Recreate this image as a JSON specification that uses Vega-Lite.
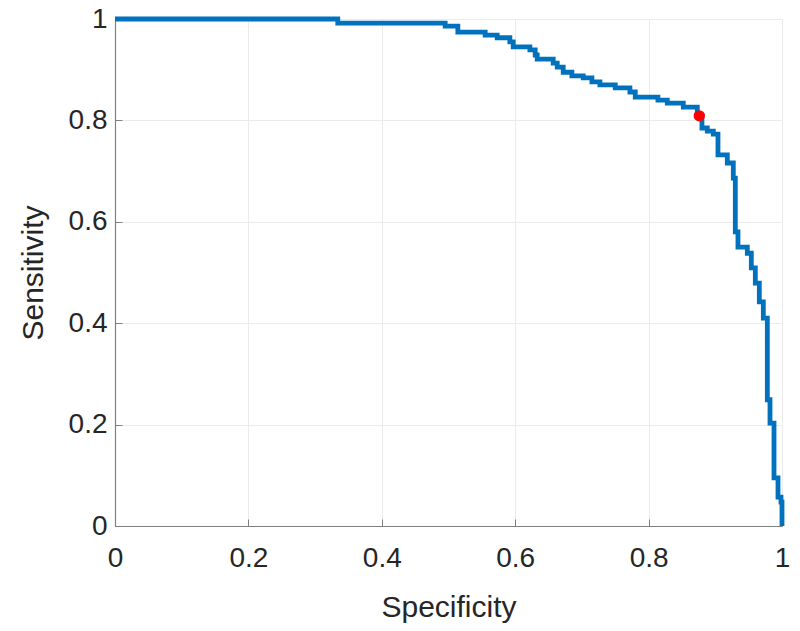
{
  "$schema": "https://vega.github.io/schema/vega-lite/v6.json",
  "width": 667,
  "height": 507,
  "autosize": {"type": "none"},
  "padding": {"left": 115, "top": 19, "right": 18, "bottom": 105},
  "background": "white",
  "config": {
    "view": {"stroke": null},
    "font": "Liberation Sans",
    "axis": {
      "labelFont": "Liberation Sans",
      "titleFont": "Liberation Sans",
      "labelFontSize": 28,
      "titleFontSize": 30,
      "labelColor": "#262626",
      "titleColor": "#262626",
      "titleFontWeight": "normal",
      "domainColor": "#808080",
      "domainWidth": 1.2,
      "tickColor": "#808080",
      "tickSize": -7,
      "gridColor": "#ebebeb",
      "gridWidth": 1
    }
  },
  "datasets": {
    "roc": [
      {"spec": 0, "sens": 1},
      {"spec": 0.334, "sens": 0.992},
      {"spec": 0.495, "sens": 0.986},
      {"spec": 0.514, "sens": 0.974},
      {"spec": 0.555, "sens": 0.968},
      {"spec": 0.573, "sens": 0.963},
      {"spec": 0.592, "sens": 0.955},
      {"spec": 0.597, "sens": 0.945},
      {"spec": 0.622, "sens": 0.939},
      {"spec": 0.630, "sens": 0.929},
      {"spec": 0.633, "sens": 0.921},
      {"spec": 0.657, "sens": 0.913},
      {"spec": 0.663, "sens": 0.905},
      {"spec": 0.672, "sens": 0.895},
      {"spec": 0.685, "sens": 0.888},
      {"spec": 0.702, "sens": 0.884},
      {"spec": 0.715, "sens": 0.876},
      {"spec": 0.727, "sens": 0.870},
      {"spec": 0.750, "sens": 0.864},
      {"spec": 0.772, "sens": 0.856},
      {"spec": 0.780, "sens": 0.846},
      {"spec": 0.814, "sens": 0.840},
      {"spec": 0.828, "sens": 0.834},
      {"spec": 0.852, "sens": 0.826},
      {"spec": 0.873, "sens": 0.809},
      {"spec": 0.880, "sens": 0.785},
      {"spec": 0.888, "sens": 0.779},
      {"spec": 0.897, "sens": 0.773},
      {"spec": 0.904, "sens": 0.732},
      {"spec": 0.918, "sens": 0.716},
      {"spec": 0.927, "sens": 0.686},
      {"spec": 0.930, "sens": 0.580},
      {"spec": 0.934, "sens": 0.550},
      {"spec": 0.948, "sens": 0.538},
      {"spec": 0.954, "sens": 0.509},
      {"spec": 0.960, "sens": 0.479},
      {"spec": 0.966, "sens": 0.442},
      {"spec": 0.972, "sens": 0.410},
      {"spec": 0.978, "sens": 0.249},
      {"spec": 0.982, "sens": 0.203},
      {"spec": 0.988, "sens": 0.095},
      {"spec": 0.994, "sens": 0.057},
      {"spec": 0.9985, "sens": 0.047},
      {"spec": 1, "sens": 0}
    ],
    "opt": [
      {"spec": 0.876, "sens": 0.809}
    ]
  },
  "layer": [
    {
      "data": {"name": "roc"},
      "mark": {"type": "line", "interpolate": "step-after", "color": "#0072BD", "strokeWidth": 4.8, "clip": false},
      "encoding": {
        "x": {
          "field": "spec", "type": "quantitative", "title": "Specificity",
          "scale": {"domain": [0, 1], "nice": false, "zero": false},
          "axis": {"values": [0, 0.2, 0.4, 0.6, 0.8, 1], "format": "~g", "labelPadding": 25, "titlePadding": 20, "labelFlush": false}
        },
        "y": {
          "field": "sens", "type": "quantitative", "title": "Sensitivity",
          "scale": {"domain": [0, 1], "nice": false, "zero": false},
          "axis": {"values": [0, 0.2, 0.4, 0.6, 0.8, 1], "format": "~g", "labelPadding": 15, "titlePadding": 20, "labelFlush": false}
        },
        "order": {"field": "spec", "type": "quantitative"}
      }
    },
    {
      "data": {"name": "opt"},
      "mark": {"type": "point", "filled": true, "color": "#ff0000", "size": 130, "opacity": 1, "shape": "circle"},
      "encoding": {
        "x": {"field": "spec", "type": "quantitative"},
        "y": {"field": "sens", "type": "quantitative"}
      }
    }
  ]
}
